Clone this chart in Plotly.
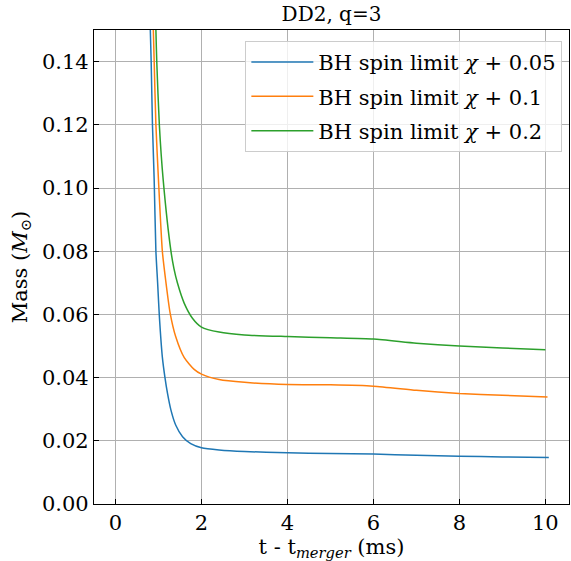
import plotly.graph_objects as go

# Blue: BH spin limit chi + 0.05
t_005 = [0.78, 0.81, 0.83, 0.86, 0.90, 0.94, 0.98, 1.02, 1.09, 1.15, 1.21, 1.29, 1.40, 1.56, 1.75, 2.00, 2.41, 3.00, 4.00, 5.00, 6.00, 7.00, 8.00, 9.00, 10.08]
m_005 = [0.165, 0.150, 0.140, 0.120, 0.1025, 0.080, 0.0700, 0.0595, 0.0465, 0.0401, 0.0350, 0.0297, 0.0250, 0.0213, 0.0191, 0.0178, 0.0171, 0.0166, 0.0162, 0.0160, 0.0158, 0.0154, 0.0151, 0.0149, 0.0147]

# Orange: chi + 0.1
t_01 = [0.85, 0.88, 0.90, 0.94, 1.00, 1.09, 1.17, 1.27, 1.40, 1.60, 1.83, 2.00, 2.41, 3.00, 4.00, 5.00, 6.00, 7.00, 8.00, 9.00, 10.05]
m_01 = [0.165, 0.150, 0.140, 0.120, 0.1025, 0.080, 0.0705, 0.0605, 0.0530, 0.0463, 0.0426, 0.0411, 0.0394, 0.0385, 0.0378, 0.0377, 0.0373, 0.0360, 0.0350, 0.0344, 0.0339]

# Green: chi + 0.2
t_02 = [0.92, 0.94, 0.96, 1.02, 1.11, 1.29, 1.36, 1.44, 1.60, 1.79, 2.00, 2.41, 3.00, 4.00, 5.00, 6.00, 7.00, 8.00, 9.00, 10.00]
m_02 = [0.165, 0.150, 0.140, 0.120, 0.1025, 0.080, 0.0745, 0.0700, 0.0635, 0.0588, 0.0560, 0.0544, 0.0535, 0.0530, 0.0526, 0.0522, 0.0509, 0.0500, 0.0494, 0.0488]

labels = ["BH spin limit <i>χ</i> + 0.05", "BH spin limit <i>χ</i> + 0.1", "BH spin limit <i>χ</i> + 0.2"]
colors = ["#1f77b4", "#ff7f0e", "#2ca02c"]

x_ticks = [0, 2, 4, 6, 8, 10]
y_ticks = [0.00, 0.02, 0.04, 0.06, 0.08, 0.10, 0.12, 0.14]

FONT = "DejaVu Serif"
FS = 21

fig = go.Figure()
for i, (t, m, lab, col) in enumerate(zip([t_005, t_01, t_02], [m_005, m_01, m_02], labels, colors)):
    fig.add_trace(go.Scatter(x=t, y=m, mode="lines", name=lab, legendgroup=f"g{i}",
                             line=dict(color=col, width=1.5, shape="spline", smoothing=0.6)))

axis_common = dict(
    showline=True, linecolor="black", linewidth=1.2, mirror=True,
    ticks="inside", ticklen=5, tickcolor="black", tickwidth=1,
    showgrid=True, gridcolor="#b0b0b0", gridwidth=1,
    zeroline=False,
    tickfont=dict(family=FONT, size=FS, color="black"),
)

fig.update_layout(
    width=571, height=561,
    margin=dict(l=94, r=2, t=30, b=57),
    paper_bgcolor="white", plot_bgcolor="white",
    title=dict(text="DD2, q=3", x=0.5, xref="paper", xanchor="center",
               y=1 - 14 / 561, yref="container", yanchor="middle",
               font=dict(family=FONT, size=FS - 1, color="black")),
    xaxis=dict(range=[-0.5, 10.55], tickvals=x_ticks, ticktext=[str(v) for v in x_ticks],
               title=dict(text="t - t<sub><i>merger</i></sub> (ms)", standoff=6,
                          font=dict(family=FONT, size=FS, color="black")),
               **axis_common),
    yaxis=dict(range=[0, 0.15], tickvals=y_ticks, ticktext=[f"{v:.2f}" for v in y_ticks],
               title=dict(text="Mass (<i>M</i><sub>⊙</sub>)", standoff=8,
                          font=dict(family=FONT, size=FS, color="black")),
               **axis_common),
    legend=dict(x=0.986, y=0.977, xanchor="right", yanchor="top",
                bgcolor="rgba(255,255,255,0.8)", bordercolor="#cccccc", borderwidth=1,
                font=dict(family=FONT, size=FS, color="black"),
                itemwidth=62, tracegroupgap=4),
    showlegend=True,
)

fig.write_html("out.html")
